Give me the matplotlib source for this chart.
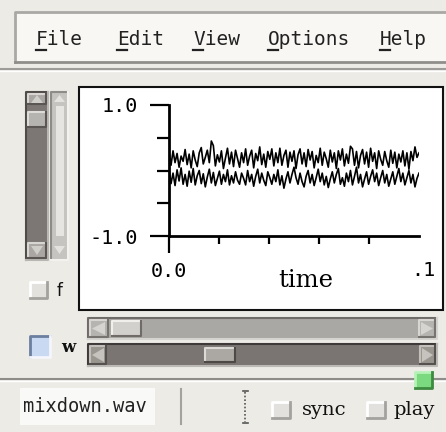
import matplotlib
matplotlib.use('Agg')
import matplotlib.pyplot as plt
import numpy as np
from matplotlib.patches import Rectangle, Polygon

# window contents
menu_items = ['File', 'Edit', 'View', 'Options', 'Help']
menu_x = [36, 117, 193, 268, 380]
file_name = 'mixdown.wav'
x_label = 'time'
duration = 0.1

# two channels of the waveform
upper = [0.28, 0.08, 0.30, 0.12, 0.26, 0.05, 0.22, 0.14, 0.32, 0.09, 0.25, 0.04,
         0.30, 0.16, 0.06, 0.27, 0.35, 0.10, 0.20, 0.31, 0.12, 0.45, 0.38, 0.07,
         0.24, 0.13, 0.30, 0.03, 0.19, 0.34, 0.10, 0.28, 0.06, 0.31, 0.18, 0.05,
         0.27, 0.12, 0.33, 0.08, 0.22, 0.31, 0.04, 0.26, 0.15, 0.36, 0.09, 0.25,
         0.05, 0.29, 0.17, 0.33, 0.07, 0.27, 0.12, 0.34, 0.08, 0.23, 0.31, 0.05,
         0.28, 0.14, 0.30, 0.03, 0.24, 0.33, 0.10, 0.27, 0.06, 0.32, 0.16, 0.29,
         0.04, 0.23, 0.12, 0.34, 0.08, 0.28, 0.18, 0.05, 0.31, 0.13, 0.27, 0.03,
         0.30, 0.16, 0.33, 0.07, 0.25, 0.11, 0.37, 0.33, 0.08, 0.29, 0.04, 0.23,
         0.32, 0.10, 0.28, 0.05, 0.34, 0.14, 0.27, 0.03, 0.30, 0.17, 0.08, 0.29,
         0.15, 0.05, 0.31, 0.11, 0.28, 0.04, 0.25, 0.13, 0.30, 0.07, 0.27, 0.02,
         0.29, 0.15, 0.36, 0.20, 0.27]
lower = [0.02, -0.20, -0.04, -0.23, 0.01, -0.16, 0.04, -0.21, -0.06, -0.24,
         -0.01, -0.18, 0.03, -0.22, -0.08, 0.00, -0.20, -0.05, -0.25, -0.10,
         0.02, -0.19, -0.03, -0.23, -0.12, -0.01, -0.21, -0.06, -0.17, 0.01,
         -0.22, -0.08, -0.19, -0.02, -0.15, -0.21, -0.04, -0.12, -0.22, 0.00,
         -0.17, -0.06, -0.24, -0.09, 0.02, -0.19, -0.04, -0.15, -0.23, -0.02,
         -0.11, -0.21, -0.06, -0.17, 0.01, -0.22, -0.08, -0.27, -0.13, -0.02,
         -0.19, -0.06, 0.05, -0.11, -0.21, -0.04, -0.17, -0.25, -0.09, 0.00,
         -0.19, -0.06, -0.23, -0.11, 0.02, -0.17, -0.04, -0.22, -0.09, -0.26,
         -0.13, -0.02, -0.19, -0.06, 0.03, -0.21, -0.11, -0.24, -0.04, -0.17,
         0.00, -0.22, -0.09, 0.05, -0.19, -0.06, -0.25, -0.13, -0.02, -0.21,
         -0.09, 0.01, -0.17, -0.04, -0.23, -0.11, 0.00, -0.19, -0.06, -0.24,
         -0.13, -0.02, -0.21, -0.09, 0.03, -0.17, -0.04, -0.22, -0.11, 0.00,
         -0.19, -0.06, -0.25, -0.12, -0.04]

BG = '#ecebe6'
W, H = 446, 432

fig = plt.figure(figsize=(W / 100, H / 100), dpi=100)
fig.patch.set_facecolor(BG)

# pixel-space layer for the widgets around the plot
ui = fig.add_axes([0, 0, 1, 1])
ui.set_xlim(0, W)
ui.set_ylim(H, 0)
ui.axis('off')


def bevel(x0, y0, x1, y1, fill, light='#ffffff', dark='#8a8985', lw=1.5, z=1):
    ui.add_patch(Rectangle((x0, y0), x1 - x0, y1 - y0, facecolor=fill,
                           edgecolor='none', zorder=z))
    ui.plot([x0, x0, x1], [y1, y0, y0], color=light, lw=lw, zorder=z + 0.1)
    ui.plot([x0, x1, x1], [y1, y1, y0], color=dark, lw=lw, zorder=z + 0.1)


def tri(pts, color, z=3):
    ui.add_patch(Polygon(pts, closed=True, facecolor=color, edgecolor='none', zorder=z))


# menu bar
bevel(15, 12, 449, 62, '#f8f7f3', light='#a9a8a4', dark='#8f8e8a', lw=2)
for name, x in zip(menu_items, menu_x):
    ui.text(x, 45, name, family='DejaVu Sans Mono', fontsize=14, color='#222222',
            va='baseline', ha='left', zorder=5)
    ui.plot([x, x + 10], [49.5, 49.5], color='#222222', lw=1.6, zorder=5)
ui.plot([0, W], [69, 69], color='#9d9c98', lw=1.5)
ui.plot([0, W], [71, 71], color='#ffffff', lw=1)

# left vertical scrollbars
bevel(26, 92, 48, 260, '#7c7774', light='#4f4b49', dark='#b9b7b3', lw=1.5)
bevel(28, 94, 46, 104, '#a9a6a3', light='#d8d6d2', dark='#5a5654')
tri([(31, 103), (37, 95), (43, 103)], '#d0cec9')
bevel(28, 112, 46, 127, '#b6b4b0', light='#dedcd8', dark='#5a5654')
bevel(28, 243, 46, 258, '#a9a6a3', light='#d8d6d2', dark='#5a5654')
tri([(31, 246), (37, 255), (43, 246)], '#d0cec9')
bevel(51, 92, 68, 260, '#c6c4c0', light='#8e8c88', dark='#f3f2ee', lw=1.5)
ui.add_patch(Rectangle((56, 106), 8, 130, facecolor='#e6e5e1', edgecolor='none', zorder=2))
tri([(54, 102), (59.5, 95), (65, 102)], '#e4e2de')
tri([(54, 246), (59.5, 254), (65, 246)], '#e4e2de')

# "f" toggle
bevel(30, 282, 47, 298, '#e2e1dd', light='#ffffff', dark='#a3a29e', lw=2)
ui.text(57, 291, 'f', family='DejaVu Sans', fontsize=12, va='center', color='#111111')

# plot frame
ui.add_patch(Rectangle((79, 87), 364, 223, facecolor='white', edgecolor='#111111',
                       lw=1.5, zorder=1))

# bottom horizontal scrollbars
bevel(88, 318, 437, 339, '#aaa8a5', light='#6f6b69', dark='#d6d4d0')
bevel(90, 320, 108, 337, '#b6b4b0', light='#d8d6d2', dark='#77736f')
tri([(92, 328.5), (105, 322), (105, 335)], '#d6d4d0')
bevel(112, 321, 141, 336, '#d2d0cc', light='#f0efeb', dark='#6f6b69')
bevel(419, 320, 435, 337, '#b6b4b0', light='#d8d6d2', dark='#77736f')
tri([(433, 328.5), (421, 322), (421, 335)], '#d6d4d0')

bevel(88, 344, 437, 366, '#7a7472', light='#3e3a39', dark='#bcbab6')
bevel(90, 346, 106, 364, '#99958f', light='#c2bfbb', dark='#55514f')
tri([(92, 355), (104, 348), (104, 362)], '#c6c3bf')
bevel(205, 348, 235, 362, '#aba8a4', light='#dcdad6', dark='#4d4947')
bevel(420, 346, 435, 364, '#99958f', light='#c2bfbb', dark='#55514f')
tri([(433, 355), (422, 348), (422, 362)], '#c6c3bf')

# "w" toggle
bevel(30, 336, 50, 357, '#c9d9f2', light='#6c7fa0', dark='#f4f6fb', lw=2)
ui.text(61, 347, 'w', family='DejaVu Serif', fontsize=12, fontweight='bold',
        va='center', color='#111111')

# status line
ui.plot([0, W], [379, 379], color='#8e8d89', lw=1.5)
ui.plot([0, W], [381, 381], color='#ffffff', lw=1)
bevel(415, 372, 432, 388, '#7bd97f', light='#b6f2b8', dark='#3d8a40', lw=2, z=4)
ui.add_patch(Rectangle((20, 388), 135, 37, facecolor='#f9f9f7', edgecolor='none', zorder=1))
ui.text(23, 407, file_name, family='DejaVu Sans Mono', fontsize=13.5, va='center',
        color='#222222', zorder=3)
ui.plot([181, 181], [389, 424], color='#a3a29e', lw=1.5)
ui.plot([245, 245], [392, 422], color='#555555', lw=1.2, ls=(0, (1, 1.2)))
ui.plot([242.5, 247.5], [391, 391], color='#555555', lw=1.2)
ui.plot([242.5, 247.5], [423, 423], color='#555555', lw=1.2)
bevel(272, 402, 290, 418, '#e2e1dd', light='#ffffff', dark='#a3a29e', lw=2)
ui.text(302, 410, 'sync', family='DejaVu Serif', fontsize=14, va='center', color='#111111')
bevel(367, 402, 385, 418, '#e2e1dd', light='#ffffff', dark='#a3a29e', lw=2)
ui.text(393, 410, 'play', family='DejaVu Serif', fontsize=14, va='center', color='#111111')

# the waveform plot
ax = fig.add_axes([169 / W, 1 - 236 / H, 250 / W, 131 / H])
ax.set_facecolor('none')
t = np.arange(len(upper)) * duration / (len(upper) - 1)
ax.plot(t, upper, color='black', lw=1.2)
ax.plot(t, lower, color='black', lw=1.2)
ax.set_xlim(0, duration)
ax.set_ylim(-1, 1)
for side in ['top', 'right']:
    ax.spines[side].set_visible(False)
for side in ['left', 'bottom']:
    ax.spines[side].set_linewidth(2.0)
    ax.spines[side].set_capstyle('projecting')

ax.set_yticks([-1.0, 1.0])
ax.set_yticks([-0.5, 0.0, 0.5], minor=True)
ax.set_yticklabels(['-1.0', '1.0'], family='DejaVu Sans Mono', fontsize=14.5)
ax.tick_params(axis='y', which='major', direction='out', length=13.5, width=1.6, pad=9)
ax.tick_params(axis='y', which='minor', direction='out', length=8.5, width=1.6)

ax.set_xticks([0.0])
ax.set_xticks([0.02, 0.04, 0.06, 0.08], minor=True)
ax.set_xticklabels(['0.0'], family='DejaVu Sans Mono', fontsize=14.5)
ax.tick_params(axis='x', which='major', direction='out', length=12, width=1.6, pad=6.5)
ax.tick_params(axis='x', which='minor', direction='out', length=6, width=1.6)
ax.annotate('.1', xy=(duration, -1), xytext=(4, -35), textcoords='offset pixels',
            family='DejaVu Sans Mono', fontsize=14.5, va='center', ha='center',
            annotation_clip=False)
ax.set_xlabel(x_label, family='DejaVu Serif', fontsize=17.5)
ax.xaxis.set_label_coords(137 / 250, -0.255)

fig.savefig('out.png', dpi=100, facecolor=BG)
